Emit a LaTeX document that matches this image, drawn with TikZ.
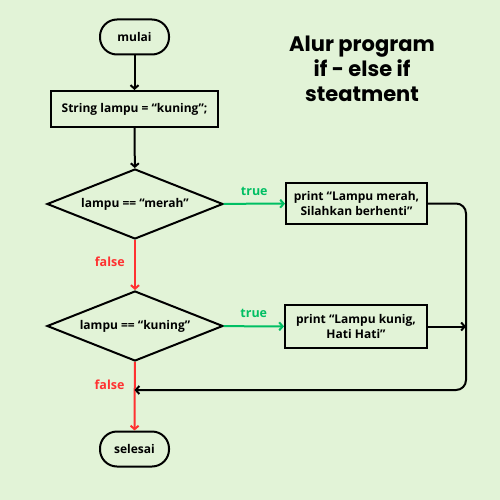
\documentclass[tikz,border=0pt]{standalone}
\usepackage{fontspec}
\setmainfont{Open Sans}
\newfontfamily\titlefont{Poppins}
\usetikzlibrary{arrows.meta,shapes.geometric}
\definecolor{bg}{RGB}{226,243,215}
\definecolor{tgreen}{RGB}{0,191,99}
\definecolor{fred}{RGB}{255,49,49}
\tikzset{
  term/.style={draw, rounded corners=17pt, minimum width=69pt, minimum height=35pt, inner sep=0pt},
  proc/.style={draw, minimum height=36pt, inner sep=0pt, align=center},
  dec/.style={draw, diamond, aspect=2.5, minimum width=176pt, minimum height=70pt, inner sep=1pt},
  lbl/.style={font=\bfseries\fontsize{12.5}{14}\selectfont},
  ttl/.style={font=\titlefont\bfseries\fontsize{21}{25}\selectfont, anchor=base},
}
\begin{document}
\begin{tikzpicture}[x=1pt, y=-1pt, line width=2pt,
  font=\bfseries\fontsize{12}{15}\selectfont,
  >={Straight Barb[length=3.5pt,width=8pt]}]
\fill[bg] (0,0) rectangle (500,500);
\useasboundingbox (0,0) rectangle (500,500);

\node[term] (mulai) at (134.5,37) {mulai};
\node[proc, minimum width=167pt] (str) at (134.5,109) {String lampu = “kuning”;};
\node[dec] (d1) at (135,204) {lampu == “merah”};
\node[proc, minimum width=141pt, minimum height=41pt] (b1) at (356.5,203.5) {print “Lampu merah,\\Silahkan berhenti”};
\node[dec] (d2) at (135,326) {lampu == “kuning”};
\node[proc, minimum width=142pt, minimum height=43pt] (b2) at (356,326.5) {print “Lampu kunig,\\Hati Hati”};
\node[term] (sel) at (134.5,449) {selesai};

\node[ttl] (t1) at (362,52) {Alur program};
\node[ttl] (t2) at (362,77) {if - else if};
\node[ttl] (t3) at (362,102) {steatment};

\coordinate (rc) at (466,390);

\draw[->] (mulai) -- (str);
\draw[->] (str) -- (d1);
\draw[->, fred] (d1) -- node[pos=0.43, left=6pt, lbl, text=fred] {false} (d2);
\draw[->, fred] (d2) -- node[pos=0.33, left=6pt, lbl, text=fred] {false} (sel);
\draw[->, tgreen] (d1) -- node[above=4pt, lbl, text=tgreen] {true} (b1);
\draw[->, tgreen] (d2) -- node[above=4pt, lbl, text=tgreen] {true} (b2);
\draw[->, rounded corners=10pt] (b1.east) -| (rc) -- (sel.north |- rc);
\draw[->] (b2.east) -- (b2.east -| rc);
\end{tikzpicture}
\end{document}
